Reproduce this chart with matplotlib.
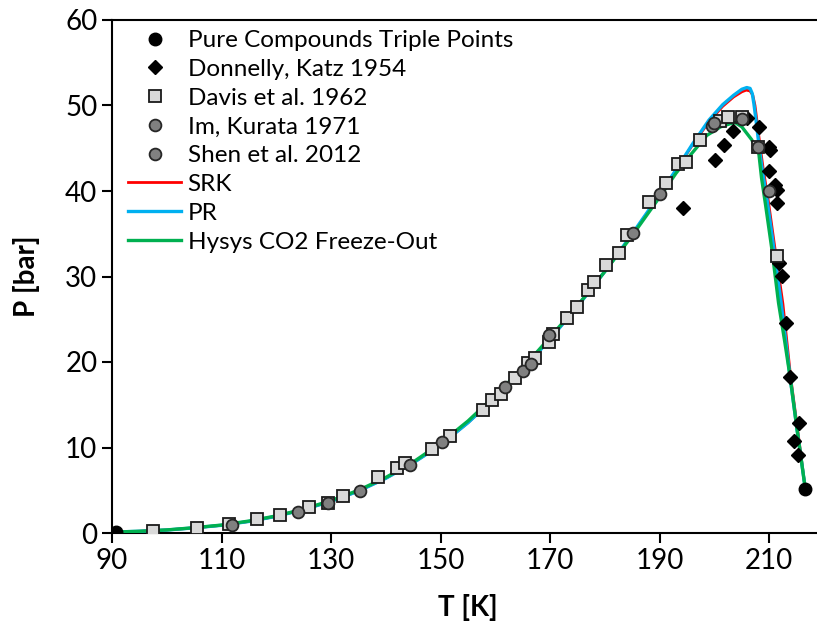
import numpy as np
import matplotlib.pyplot as plt

plt.rcParams['font.family'] = ['Lato', 'DejaVu Sans']

# pure compounds triple points (CH4, CO2)
triple_T = [90.69, 216.58]
triple_P = [0.117, 5.185]

# Donnelly, Katz 1954
dk_T = [194.3, 200.1, 201.8, 203.3, 205.9, 208.2, 209.9, 210.2, 209.9, 211.0, 211.5, 211.5,
        211.7, 212.3, 213.0, 213.8, 215.5, 214.6, 215.2]
dk_P = [38.0, 43.6, 45.4, 47.0, 48.5, 47.5, 45.2, 44.8, 42.3, 40.7, 40.1, 38.6,
        31.6, 30.1, 24.6, 18.2, 12.9, 10.8, 9.1]

# Davis et al. 1962
davis_T = [97.5, 105.5, 111.4, 116.5, 120.7, 125.9, 129.5, 132.2, 138.6, 142.0, 143.5, 148.4,
           151.7, 157.8, 159.4, 161.1, 163.6, 166.0, 167.3, 169.7, 170.6, 173.0, 174.9, 176.9,
           178.0, 180.2, 182.5, 184.1, 188.1, 191.2, 193.4, 194.8, 197.4, 201.1, 202.5, 205.0,
           207.9, 211.4]
davis_P = [0.27, 0.62, 1.0, 1.6, 2.1, 3.0, 3.5, 4.3, 6.5, 7.6, 8.2, 9.8,
           11.3, 14.4, 15.5, 16.3, 18.1, 19.9, 20.5, 22.3, 23.3, 25.1, 26.4, 28.4,
           29.3, 31.3, 32.7, 34.9, 38.7, 40.9, 43.2, 43.4, 46.0, 48.2, 48.6, 48.6,
           45.1, 32.4]

# Im, Kurata 1971
im_T = [185.1, 190.0, 199.5, 200.0, 205.0, 207.9, 209.9]
im_P = [35.1, 39.7, 47.6, 47.9, 48.4, 45.2, 40.0]

# Shen et al. 2012
shen_T = [111.9, 123.9, 129.5, 135.2, 144.4, 150.2, 161.8, 165.0, 166.5, 169.8]
shen_P = [0.9, 2.4, 3.5, 4.9, 8.0, 10.6, 17.1, 18.9, 19.8, 23.2]

# SRK
srk_T = [90.69, 95, 100, 105, 110, 115, 120, 125, 130, 135, 140, 145, 150, 155, 160, 165,
         170, 175, 180, 185, 190, 193, 196, 199, 201.5, 203.5, 205.0, 205.8, 206.5, 207.0,
         207.4, 207.8, 208.3, 208.9, 209.8, 211.0, 212.5, 213.9, 215.2, 216.58]
srk_P = [0.117, 0.2, 0.35, 0.6, 0.9, 1.35, 1.95, 2.75, 3.7, 4.9, 6.4, 8.2, 10.3, 12.9, 15.9, 19.1,
         22.7, 26.5, 30.6, 34.9, 39.5, 42.4, 45.4, 48.1, 49.9, 51.0, 51.6, 51.8, 51.7, 51.2,
         50.0, 48.0, 45.4, 42.6, 39.0, 33.5, 26.8, 18.3, 12.0, 5.185]

# PR
pr_T = [90.69, 95, 100, 105, 110, 115, 120, 125, 130, 135, 140, 145, 150, 155, 160, 165,
        170, 175, 180, 185, 190, 193, 196, 199, 201.5, 203.5, 205.0, 205.9, 206.5, 206.9,
        207.2, 207.6, 208.1, 208.7, 209.6, 210.8, 212.2, 213.8, 215.1, 216.58]
pr_P = [0.117, 0.2, 0.35, 0.6, 0.9, 1.35, 1.95, 2.75, 3.7, 4.9, 6.4, 8.2, 10.3, 12.9, 15.9, 19.1,
        22.7, 26.5, 30.6, 35.0, 39.6, 42.5, 45.5, 48.3, 50.1, 51.2, 51.9, 52.1, 52.0, 51.4,
        50.2, 48.2, 45.5, 42.6, 39.0, 33.5, 26.8, 18.3, 12.0, 5.185]

# Hysys CO2 Freeze-Out
hy_T = [90.69, 95, 100, 105, 110, 115, 120, 125, 130, 135, 140, 145, 150, 155, 160, 165,
        170, 175, 180, 185, 190, 193, 195.6, 198.6, 201.1, 203.0, 203.8, 205.0, 206.8, 208.1,
        208.6, 209.3, 210.5, 211.7, 212.8, 213.8, 215.1, 216.58]
hy_P = [0.117, 0.2, 0.36, 0.62, 0.93, 1.4, 2.0, 2.8, 3.8, 5.0, 6.5, 8.3, 10.5, 13.1, 16.1, 19.3,
        22.9, 26.6, 30.6, 34.8, 39.3, 42.1, 44.2, 46.5, 47.5, 47.9, 48.0, 47.5, 46.0, 44.4,
        41.5, 38.5, 33.1, 26.9, 22.5, 18.3, 12.0, 5.185]

fig = plt.figure(figsize=(8.17, 6.31), dpi=100)
ax = fig.add_axes([112 / 817, 98 / 631, 712 / 817, 513 / 631])

ax.plot(srk_T, srk_P, color='#FF0000', lw=2.0, label='SRK', zorder=2)
ax.plot(pr_T, pr_P, color='#00B0F0', lw=2.4, label='PR', zorder=3)
ax.plot(hy_T, hy_P, color='#00B050', lw=2.4, label='Hysys CO2 Freeze-Out', zorder=4)

ax.plot(triple_T, triple_P, 'o', ms=9, color='black', label='Pure Compounds Triple Points', zorder=6)
ax.plot(dk_T, dk_P, 'D', ms=7.5, color='black', mec='black', label='Donnelly, Katz 1954', zorder=5)
ax.plot(davis_T, davis_P, 's', ms=8.5, mfc='#D9D9D9', mec='#1a1a1a', mew=1.3,
        label='Davis et al. 1962', zorder=5)
ax.plot(im_T, im_P, 'o', ms=8.5, mfc='#808080', mec='#262626', mew=1.3,
        label='Im, Kurata 1971', zorder=5)
ax.plot(shen_T, shen_P, 'o', ms=8.5, mfc='#808080', mec='#262626', mew=1.3,
        label='Shen et al. 2012', zorder=5)

ax.set_xlim(90, 220)
ax.set_ylim(0, 60)
ax.set_xticks(np.arange(90, 211, 20))
ax.set_yticks(np.arange(0, 61, 10))
ax.tick_params(direction='out', length=7, width=1.5, labelsize=20, top=False, right=False)
for s in ['left', 'bottom', 'top']:
    ax.spines[s].set_linewidth(1.5)
ax.spines['right'].set_visible(False)

ax.set_xlabel('T [K]', fontsize=20, fontweight='bold', labelpad=15)
ax.set_ylabel('P [bar]', fontsize=20, fontweight='bold', labelpad=18)

h, l = ax.get_legend_handles_labels()
order = [3, 4, 5, 6, 7, 0, 1, 2]
ax.legend([h[i] for i in order], [l[i] for i in order], loc='upper left',
          bbox_to_anchor=(128 / 817, 1 - 30 / 631), bbox_transform=fig.transFigure,
          frameon=False, fontsize=17.5, borderpad=0, borderaxespad=0,
          handlelength=2.2, handletextpad=0.25, labelspacing=0.32)

fig.savefig('out.png', dpi=100)
